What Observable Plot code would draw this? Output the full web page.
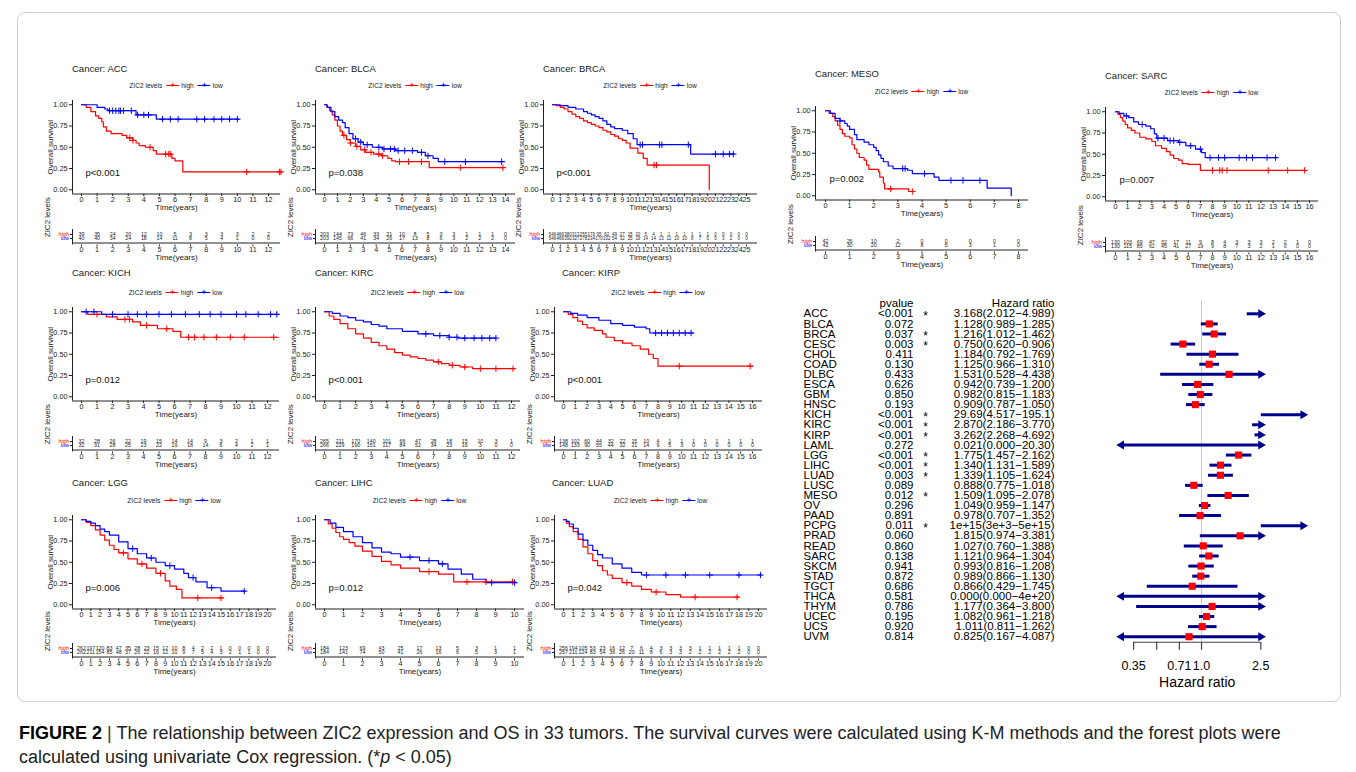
<!DOCTYPE html>
<html><head><meta charset="utf-8">
<script src="https://cdn.jsdelivr.net/npm/d3@7"></script>
<script src="https://cdn.jsdelivr.net/npm/@observablehq/plot@0.6"></script>
<style>
body{margin:0;background:#fff;font-family:"Liberation Sans",Arial,sans-serif;}
#root{position:relative;width:1356px;height:772px;overflow:hidden;background:#fff}
.abs{position:absolute}
.frame{position:absolute;left:17px;top:12px;width:1322px;height:688px;border:1px solid #cfcfcf;border-radius:8px}
.title{font-size:9.5px;color:#222;white-space:nowrap;transform:translateY(-50%)}
.legend{font-size:6.6px;color:#222;white-space:nowrap;display:flex;align-items:center;transform:translate(-50%,-50%)}
.key{position:relative;display:inline-block;width:13px;height:8px;margin:0 2px 0 4px}
.key i{position:absolute;left:0;right:0;top:3.6px;height:1.2px;background:var(--c)}
.key b{position:absolute;left:0;right:0;top:-1.5px;text-align:center;color:var(--c);font-size:9px;font-weight:normal;line-height:10px}
.caption{position:absolute;left:19px;top:721px;width:1330px;font-size:18px;line-height:24px;color:#222;white-space:nowrap}
.caption b{color:#000}
svg{overflow:visible}
</style>
</head><body><div id="root"><div class="frame"></div></div>
<script>
// ---------------- Kaplan-Meier data (time in years, survival) ----------------
const accHigh = [[0,1],[0.3,0.97],[0.6,0.92],[0.9,0.87],[1.1,0.84],[1.3,0.80],[1.4,0.74],[1.6,0.69],[1.9,0.66],[2.6,0.64],[2.9,0.61],[3.3,0.58],[3.5,0.55],[3.7,0.52],[4.1,0.50],[4.6,0.46],[4.8,0.42],[5.8,0.37],[6.0,0.34],[6.5,0.21],[12.8,0.21]];
const accLow = [[0,1],[1.0,0.97],[1.5,0.95],[1.7,0.93],[3.5,0.88],[4.8,0.83],[10.1,0.83]];
const accHighCens = [3.1,3.3,4.4,5.4,5.6,5.7,10.6,12.7,12.8];
const accLowCens = [1.8,2.0,2.2,2.4,2.5,2.7,3.2,3.6,4.0,4.3,5.2,5.7,6.2,7.4,7.9,8.5,9.0,9.5,10.0];
const accRiskHigh = [39,35,24,20,12,10,5,3,3,3,3,2,2];
const accRiskLow = [40,40,34,24,18,14,11,8,5,4,1,0,0];

const blcaHigh = [[0,1],[0.2,0.97],[0.4,0.93],[0.6,0.88],[0.8,0.82],[1.0,0.75],[1.2,0.69],[1.4,0.64],[1.7,0.59],[2.0,0.55],[2.4,0.51],[2.8,0.47],[3.2,0.44],[3.8,0.42],[4.4,0.40],[4.9,0.37],[5.2,0.34],[5.5,0.33],[8.1,0.26],[13.9,0.26]];
const blcaLow = [[0,1],[0.2,0.97],[0.5,0.92],[0.8,0.86],[1.1,0.82],[1.4,0.79],[1.6,0.73],[1.9,0.66],[2.2,0.60],[2.6,0.56],[3.0,0.53],[3.7,0.50],[4.5,0.48],[5.5,0.46],[7.2,0.44],[7.8,0.40],[8.4,0.37],[8.8,0.33],[13.9,0.33]];
const blcaHighCens = [1.5,2.0,2.5,3.1,3.6,4.2,4.5,5.8,6.5,7.5,10.5,13.8];
const blcaLowCens = [2.4,2.8,3.3,4.2,4.6,5.1,5.4,5.7,6.2,6.8,7.5,8.0,9.3,10.9,13.7];
const blcaRiskHigh = [203,144,73,46,33,21,10,8,5,3,3,1,1,1,0];
const blcaRiskLow = [203,145,66,41,34,26,17,13,8,6,3,2,2,2,0];

const brcaHigh = [[0,1],[0.5,0.99],[1,0.97],[1.5,0.95],[2,0.92],[2.5,0.89],[3,0.86],[3.5,0.84],[4,0.81],[4.5,0.79],[5,0.77],[5.5,0.75],[6,0.73],[6.5,0.70],[7,0.68],[7.5,0.65],[8,0.63],[8.5,0.60],[9,0.58],[9.5,0.55],[10,0.49],[11,0.43],[11.7,0.37],[12.2,0.29],[20.2,0]];
const brcaLow = [[0,1],[1,0.99],[2,0.97],[3,0.95],[4,0.92],[4.5,0.90],[5,0.88],[5.5,0.86],[6,0.84],[6.5,0.81],[7,0.77],[7.5,0.74],[8,0.72],[9,0.70],[9.7,0.66],[10.4,0.60],[10.9,0.53],[17.8,0.42],[23.4,0.42]];
const brcaHighCens = [13.1,13.4];
const brcaLowCens = [11.3,11.6,13.8,14.1,17.5,21.0,22.0,22.8,23.3];
const brcaRiskHigh = [546,466,380,313,255,179,95,62,49,27,15,10,5,4,1,1,1,1,1,1,1,0,0,0,0,0];
const brcaRiskLow = [546,466,392,327,278,234,170,102,54,32,25,19,14,14,13,11,10,10,8,7,5,5,3,2,0,0];

const mesoHigh = [[0,1],[0.15,0.97],[0.3,0.93],[0.4,0.88],[0.5,0.83],[0.6,0.78],[0.7,0.73],[0.8,0.70],[1.0,0.68],[1.1,0.60],[1.2,0.55],[1.3,0.50],[1.4,0.45],[1.6,0.42],[1.7,0.36],[1.8,0.31],[2.2,0.28],[2.25,0.22],[2.4,0.15],[2.45,0.08],[3.45,0.05],[3.6,0.05]];
const mesoLow = [[0,1],[0.2,0.97],[0.4,0.91],[0.6,0.88],[0.8,0.85],[0.9,0.82],[1.0,0.78],[1.2,0.72],[1.3,0.66],[1.6,0.63],[1.8,0.60],[2.0,0.57],[2.1,0.53],[2.2,0.48],[2.3,0.44],[2.4,0.40],[2.6,0.35],[2.8,0.32],[3.4,0.30],[3.6,0.26],[4.5,0.22],[4.7,0.18],[6.7,0.09],[7.7,0.0]];
const mesoHighCens = [2.7,3.6];
const mesoLowCens = [0.6,3.2,3.3,4.1,5.2,5.7,6.4];
const mesoRiskHigh = [42,26,10,2,0,0,0,0,0];
const mesoRiskLow = [42,30,20,12,8,5,3,1,0];

const sarcHigh = [[0,1],[0.2,0.97],[0.4,0.93],[0.6,0.89],[0.8,0.85],[1,0.81],[1.3,0.78],[1.6,0.75],[2,0.70],[2.5,0.68],[3,0.65],[3.3,0.60],[3.8,0.57],[4.2,0.53],[4.5,0.49],[4.8,0.45],[5.2,0.43],[5.5,0.39],[6,0.38],[7,0.31],[15.7,0.31]];
const sarcLow = [[0,1],[0.3,0.98],[0.7,0.95],[1.1,0.93],[1.5,0.88],[1.9,0.85],[2.5,0.83],[2.9,0.80],[3.2,0.74],[3.4,0.69],[4.3,0.66],[5.2,0.64],[5.8,0.60],[6.6,0.56],[7.1,0.52],[7.4,0.46],[13.3,0.46]];
const sarcHighCens = [8.0,8.6,8.8,9.2,12.6,14.2,15.6];
const sarcLowCens = [0.9,2.2,3.5,4.0,4.5,4.8,5.3,6.2,7.0,7.8,8.5,9.0,10.2,10.8,11.3,12.5,13.2];
const sarcRiskHigh = [130,103,69,47,32,17,11,9,8,4,3,3,3,2,2,1,0];
const sarcRiskLow = [130,115,85,62,45,41,27,19,9,8,7,3,2,1,0,0,0];

const kichHigh = [[0,1],[0.4,0.97],[1.6,0.94],[2.3,0.91],[3.3,0.88],[3.8,0.84],[4.9,0.80],[5.9,0.77],[6.4,0.70],[12.7,0.70]];
const kichLow = [[0,1],[1.3,0.97],[12.7,0.97]];
const kichHighCens = [1.0,2.8,3.1,4.2,5.5,6.9,7.3,7.9,8.7,9.6,10.5,12.4];
const kichLowCens = [0.3,0.8,2.0,3.0,3.6,4.2,5.0,5.8,6.7,7.6,8.3,9.0,10.0,10.6,11.4,12.2,12.6];
const kichRiskHigh = [32,28,26,22,19,15,14,14,9,3,2,1,1];
const kichRiskLow = [32,31,28,25,23,22,19,18,14,6,4,2,1];

const kircHigh = [[0,1],[0.3,0.95],[0.6,0.91],[1,0.86],[1.5,0.80],[2,0.74],[2.5,0.69],[3,0.64],[3.5,0.60],[4,0.56],[4.5,0.52],[5,0.49],[5.5,0.47],[6,0.45],[6.5,0.43],[7,0.41],[7.5,0.39],[8,0.37],[8.7,0.35],[9.5,0.33],[12.2,0.33]];
const kircLow = [[0,1],[0.5,0.98],[1,0.95],[1.5,0.93],[2,0.90],[2.5,0.88],[3,0.85],[3.5,0.83],[4,0.80],[5,0.77],[6,0.74],[7,0.72],[8,0.70],[8.6,0.69],[11,0.69]];
const kircHighCens = [7.3,8.2,9.0,10.0,11.0,12.1];
const kircLowCens = [6.5,7.4,8.0,8.5,9.0,9.6,10.1,10.6,11.0];
const kircRiskHigh = [265,211,170,140,101,66,47,28,18,15,10,3,1];
const kircRiskLow = [266,229,190,151,117,84,52,34,23,16,3,0,0];

const kirpHigh = [[0,1],[0.4,0.97],[0.8,0.93],[1.2,0.89],[1.6,0.85],[2,0.81],[2.6,0.78],[3.3,0.74],[3.6,0.70],[4.3,0.66],[5,0.63],[5.8,0.60],[6.5,0.56],[7.2,0.50],[7.6,0.45],[8.0,0.36],[16,0.36]];
const kirpLow = [[0,1],[0.6,0.98],[1.2,0.96],[2,0.93],[3,0.90],[4,0.86],[5,0.84],[6,0.82],[7,0.80],[7.3,0.75],[11,0.75]];
const kirpHighCens = [9.8,15.8];
const kirpLowCens = [7.8,8.3,8.8,9.3,9.8,10.3,10.8];
const kirpRiskHigh = [138,102,60,44,32,22,15,10,4,1,1,1,1,1,1,1,1];
const kirpRiskLow = [148,133,90,55,44,32,21,14,9,5,3,0,0,0,0,0,0];

const lggHigh = [[0,1],[0.5,0.97],[1,0.93],[1.5,0.88],[2,0.82],[2.5,0.76],[3,0.70],[3.5,0.65],[4,0.61],[5,0.54],[6,0.48],[7,0.43],[8,0.37],[9,0.28],[9.5,0.22],[10.2,0.18],[10.8,0.08],[15.2,0.08]];
const lggLow = [[0,1],[0.5,0.98],[1,0.96],[1.5,0.93],[2,0.89],[2.5,0.86],[3,0.82],[4,0.74],[5,0.66],[6,0.60],[7,0.55],[8,0.50],[9,0.46],[10,0.42],[11,0.37],[11.5,0.32],[12.3,0.27],[13.5,0.20],[15,0.16],[17.6,0.16]];
const lggHighCens = [4.5,6.5,8.5,12.5,15.0];
const lggLowCens = [5.5,7.5,9.5,12.0,14.0,17.5];
const lggRiskHigh = [262,197,120,83,47,35,28,23,15,12,10,8,4,2,2,1,0,0,0,0,0];
const lggRiskLow = [262,211,154,85,48,37,26,22,16,12,10,9,7,5,4,3,2,1,1,0,0];

const lihcHigh = [[0,1],[0.2,0.95],[0.4,0.90],[0.6,0.85],[0.8,0.80],[1,0.77],[1.3,0.73],[1.6,0.69],[2,0.63],[2.5,0.57],[3,0.51],[3.5,0.47],[4,0.43],[5,0.39],[6,0.36],[6.8,0.27],[10,0.27]];
const lihcLow = [[0,1],[0.3,0.96],[0.6,0.91],[1,0.86],[1.5,0.80],[2,0.73],[2.5,0.67],[3,0.62],[3.5,0.60],[4,0.56],[5,0.52],[6,0.48],[6.5,0.42],[7.2,0.36],[7.8,0.30],[8.5,0.26],[10.1,0.26]];
const lihcHighCens = [5.5,7.5,8.5,9.9];
const lihcLowCens = [4.5,5.5,6.2,8.8,10.0];
const lihcRiskHigh = [184,123,69,43,25,17,13,5,3,1,1];
const lihcRiskLow = [184,141,74,50,41,26,16,6,5,3,1];

const luadHigh = [[0,1],[0.3,0.96],[0.6,0.92],[1,0.86],[1.5,0.77],[2,0.68],[2.5,0.60],[3,0.52],[3.5,0.46],[4,0.40],[4.5,0.35],[5,0.31],[6,0.26],[7,0.22],[8,0.18],[9,0.15],[10.5,0.12],[12,0.09],[18,0.09]];
const luadLow = [[0,1],[0.3,0.98],[0.6,0.95],[1,0.90],[1.5,0.83],[2,0.76],[2.5,0.70],[3,0.64],[3.5,0.59],[4,0.55],[5,0.48],[6,0.43],[7,0.38],[8,0.35],[20.3,0.35]];
const luadHighCens = [6.5,9.5,13.5,17.8];
const luadLowCens = [8.5,10.5,12.5,15.0,18.0,20.2];
const luadRiskHigh = [256,194,105,53,23,16,12,7,6,4,3,3,3,3,1,1,1,1,1,0,0];
const luadRiskLow = [257,211,124,83,54,36,26,20,11,8,6,3,3,2,2,2,2,2,2,0,0];

// ---------------- Forest plot data ----------------
const cancers = ["ACC","BLCA","BRCA","CESC","CHOL","COAD","DLBC","ESCA","GBM","HNSC","KICH","KIRC","KIRP","LAML","LGG","LIHC","LUAD","LUSC","MESO","OV","PAAD","PCPG","PRAD","READ","SARC","SKCM","STAD","TGCT","THCA","THYM","UCEC","UCS","UVM"];
const pvalues = ["<0.001","0.072","0.037","0.003","0.411","0.130","0.433","0.626","0.850","0.193","<0.001","<0.001","<0.001","0.272","<0.001","<0.001","0.003","0.089","0.012","0.296","0.891","0.011","0.060","0.860","0.138","0.941","0.872","0.686","0.581","0.786","0.195","0.920","0.814"];
const hrLabels = ["3.168(2.012\u22124.989)","1.128(0.989\u22121.285)","1.216(1.012\u22121.462)","0.750(0.620\u22120.906)","1.184(0.792\u22121.769)","1.125(0.966\u22121.310)","1.531(0.528\u22124.438)","0.942(0.739\u22121.200)","0.982(0.815\u22121.183)","0.909(0.787\u22121.050)","29.69(4.517\u2212195.1)","2.870(2.186\u22123.770)","3.262(2.268\u22124.692)","0.021(0.000\u221220.30)","1.775(1.457\u22122.162)","1.340(1.131\u22121.589)","1.339(1.105\u22121.624)","0.888(0.775\u22121.018)","1.509(1.095\u22122.078)","1.049(0.959\u22121.147)","0.978(0.707\u22121.352)","1e+15(3e+3\u22125e+15)","1.815(0.974\u22123.381)","1.027(0.760\u22121.388)","1.121(0.964\u22121.304)","0.993(0.816\u22121.208)","0.989(0.866\u22121.130)","0.866(0.429\u22121.745)","0.000(0.000\u22124e+20)","1.177(0.364\u22123.800)","1.082(0.961\u22121.218)","1.011(0.811\u22121.262)","0.825(0.167\u22124.087)"];
const hr = [3.168,1.128,1.216,0.750,1.184,1.125,1.531,0.942,0.982,0.909,29.69,2.870,3.262,0.021,1.775,1.340,1.339,0.888,1.509,1.049,0.978,1e15,1.815,1.027,1.121,0.993,0.989,0.866,0.000,1.177,1.082,1.011,0.825];
const hrLow = [2.012,0.989,1.012,0.620,0.792,0.966,0.528,0.739,0.815,0.787,4.517,2.186,2.268,0.000,1.457,1.131,1.105,0.775,1.095,0.959,0.707,3e3,0.974,0.760,0.964,0.816,0.866,0.429,0.000,0.364,0.961,0.811,0.167];
const hrHigh = [4.989,1.285,1.462,0.906,1.769,1.310,4.438,1.200,1.183,1.050,195.1,3.770,4.692,20.30,2.162,1.589,1.624,1.018,2.078,1.147,1.352,5e15,3.381,1.388,1.304,1.208,1.130,1.745,4e20,3.800,1.218,1.262,4.087];
const hrTicks = [0.35,0.5,0.71,1.0,2.5];
const hrTickLabels = ["0.35","","0.71","1.0","2.5"];
const clipLo = 0.29, clipHi = 2.5, overflowHi = 4.8;

// ---------------- panels ----------------
const panels = [
  {name:"ACC", p:"p<0.001", high:accHigh, low:accLow, hc:accHighCens, lc:accLowCens, rh:accRiskHigh, rl:accRiskLow},
  {name:"BLCA", p:"p=0.038", high:blcaHigh, low:blcaLow, hc:blcaHighCens, lc:blcaLowCens, rh:blcaRiskHigh, rl:blcaRiskLow},
  {name:"BRCA", p:"p<0.001", high:brcaHigh, low:brcaLow, hc:brcaHighCens, lc:brcaLowCens, rh:brcaRiskHigh, rl:brcaRiskLow},
  {name:"MESO", p:"p=0.002", high:mesoHigh, low:mesoLow, hc:mesoHighCens, lc:mesoLowCens, rh:mesoRiskHigh, rl:mesoRiskLow},
  {name:"SARC", p:"p=0.007", high:sarcHigh, low:sarcLow, hc:sarcHighCens, lc:sarcLowCens, rh:sarcRiskHigh, rl:sarcRiskLow},
  {name:"KICH", p:"p=0.012", high:kichHigh, low:kichLow, hc:kichHighCens, lc:kichLowCens, rh:kichRiskHigh, rl:kichRiskLow},
  {name:"KIRC", p:"p<0.001", high:kircHigh, low:kircLow, hc:kircHighCens, lc:kircLowCens, rh:kircRiskHigh, rl:kircRiskLow},
  {name:"KIRP", p:"p<0.001", high:kirpHigh, low:kirpLow, hc:kirpHighCens, lc:kirpLowCens, rh:kirpRiskHigh, rl:kirpRiskLow},
  {name:"LGG", p:"p=0.006", high:lggHigh, low:lggLow, hc:lggHighCens, lc:lggLowCens, rh:lggRiskHigh, rl:lggRiskLow},
  {name:"LIHC", p:"p=0.012", high:lihcHigh, low:lihcLow, hc:lihcHighCens, lc:lihcLowCens, rh:lihcRiskHigh, rl:lihcRiskLow},
  {name:"LUAD", p:"p=0.042", high:luadHigh, low:luadLow, hc:luadHighCens, lc:luadLowCens, rh:luadRiskHigh, rl:luadRiskLow}
];

// layout (pixels): y-axis x, title x, x=0 pixel, last tick & its pixel, axis end, title/legend y, y of 1.00, y of "high" row
const layout = {
  ACC:{ax:72,tx:72,x0:81,tmax:12,tmaxPx:268,end:280,titleY:68,legendY:85,y1:104,riskY:232},
  BLCA:{ax:315,tx:315,x0:324,tmax:14,tmaxPx:505,end:515,titleY:68,legendY:85,y1:104,riskY:232},
  BRCA:{ax:543,tx:543,x0:552,tmax:25,tmaxPx:746,end:757,titleY:68,legendY:85,y1:104,riskY:232},
  MESO:{ax:815,tx:815,x0:825,tmax:8,tmaxPx:1018,end:1028,titleY:73,legendY:91,y1:110,riskY:239},
  SARC:{ax:1105,tx:1105,x0:1115,tmax:16,tmaxPx:1309,end:1318,titleY:75,legendY:92,y1:111,riskY:240},
  KICH:{ax:72,tx:72,x0:81,tmax:12,tmaxPx:267,end:279,titleY:272,legendY:292,y1:311,riskY:439},
  KIRC:{ax:315,tx:315,x0:324,tmax:12,tmaxPx:511,end:520,titleY:272,legendY:292,y1:311,riskY:439},
  KIRP:{ax:554,tx:562,x0:563,tmax:16,tmaxPx:752,end:762,titleY:272,legendY:292,y1:311,riskY:439},
  LGG:{ax:72,tx:72,x0:81,tmax:20,tmaxPx:267,end:276,titleY:482,legendY:500,y1:519,riskY:646},
  LIHC:{ax:315,tx:315,x0:324,tmax:10,tmaxPx:514,end:524,titleY:482,legendY:500,y1:519,riskY:646},
  LUAD:{ax:554,tx:552,x0:563,tmax:20,tmaxPx:758,end:767,titleY:482,legendY:500,y1:519,riskY:646}
};

const root = document.getElementById("root");
const FONT = "Liberation Sans, Arial, sans-serif";
const colorScale = {domain:["high","low"], range:["#FF0000","#0000FF"]};
const stepAt = (arr, t) => { let s = 1; for (const [tt, ss] of arr) if (tt <= t) s = ss; return s; };

function place(el, left, top) {
  el.classList.add("abs");
  el.style.left = left + "px"; el.style.top = top + "px";
  root.appendChild(el);
}

for (const P of panels) {
  const L = layout[P.name];
  const k = (L.tmaxPx - L.x0) / L.tmax;
  const xlo = -(L.x0 - L.ax) / k, xhi = (L.end - L.x0) / k;
  const mL = 40, mR = 6;
  const W = mL + (L.end - L.ax) + mR;
  const ticks = d3.range(0, L.tmax + 1);
  const xOpt = {domain:[xlo, xhi], ticks, tickFormat: d => d, tickSize: 2.5, tickPadding: 0, label: null};

  // title
  const t = document.createElement("div");
  t.className = "title"; t.textContent = "Cancer: " + P.name;
  place(t, L.tx, L.titleY);

  // legend
  const lg = document.createElement("div");
  lg.className = "legend";
  lg.innerHTML = 'ZIC2 levels<span class="key" style="--c:#FF0000"><i></i><b>+</b></span>high<span class="key" style="--c:#0000FF"><i></i><b>+</b></span>low';
  place(lg, (L.ax + L.end) / 2, L.legendY);

  // KM plot
  const mT = 4, mB = 30, fh = 85 * 1.1;
  const curves = [
    ...P.high.map(([t, s]) => ({t, s, g: "high"})),
    ...P.low.map(([t, s]) => ({t, s, g: "low"}))
  ];
  const cens = [
    ...P.hc.map(t => ({t, s: stepAt(P.high, t), g: "high"})),
    ...P.lc.map(t => ({t, s: stepAt(P.low, t), g: "low"}))
  ];
  const km = Plot.plot({
    width: W, height: mT + fh + mB,
    marginLeft: mL, marginRight: mR, marginTop: mT, marginBottom: mB,
    style: {fontFamily: FONT, fontSize: "7.3px", color: "#222", background: "transparent"},
    x: xOpt,
    y: {domain:[-0.05, 1.05], ticks:[0, 0.25, 0.5, 0.75, 1], tickFormat: d3.format(".2f"), tickSize: 3, tickPadding: 2, label: null},
    color: colorScale,
    marks: [
      Plot.ruleX([xlo], {stroke: "#222", strokeWidth: 1}),
      Plot.ruleY([-0.05], {stroke: "#222", strokeWidth: 1}),
      Plot.line(curves, {x: "t", y: "s", z: "g", stroke: "g", curve: "step-after", strokeWidth: 1.2}),
      Plot.dot(cens, {x: "t", y: "s", stroke: "g", symbol: "plus", r: 2.2, strokeWidth: 1}),
      Plot.text([P.p], {x: 0, y: 0.2, dx: 4, textAnchor: "start", fontSize: 9.5, fill: "#111"}),
      Plot.text(["Time(years)"], {frameAnchor: "bottom", dy: 15.8, fontSize: 8, fill: "#222"}),
      Plot.text(["Overall survival"], {x: xlo - 22 / k, y: 0.5, rotate: -90, fontSize: 8, fill: "#222"})
    ]
  });
  place(km, L.ax - mL, L.y1 - 85 * 0.05 - mT);

  // risk table
  const rows = [
    ...P.rh.map((n, i) => ({t: ticks[i], n, g: "high"})),
    ...P.rl.map((n, i) => ({t: ticks[i], n, g: "low"}))
  ];
  const maxDigits = d3.max(rows, d => String(d.n).length);
  const numSize = Math.min(5.3, k / (maxDigits * 0.58));
  const rH = 40, axisY = 17.5;
  const risk = Plot.plot({
    width: W, height: rH,
    marginLeft: mL, marginRight: mR, marginTop: 2, marginBottom: rH - axisY,
    style: {fontFamily: FONT, fontSize: "7.1px", color: "#222", background: "transparent"},
    x: {...xOpt, tickSize: 2, tickPadding: 0},
    y: {type: "point", domain: ["high", "low"], range: [5, 13], tickSize: 2, tickFormat: () => "", label: null},
    color: colorScale,
    marks: [
      Plot.ruleX([xlo], {stroke: "#222", strokeWidth: 1}),
      Plot.ruleY(["low"], {x1: xlo, x2: xhi, dy: axisY - 13, stroke: "#222", strokeWidth: 1}),
      Plot.text(rows, {x: "t", y: "g", text: "n", fontSize: numSize, fill: "#222"}),
      Plot.text(["high", "low"], {y: d => d, frameAnchor: "left", dx: -3.5, textAnchor: "end", fill: d => d, fontSize: 5.5}),
      Plot.text(["Time(years)"], {frameAnchor: "bottom", dy: 15.2, fontSize: 8, fill: "#222"}),
      Plot.text(["ZIC2 levels"], {x: xlo - 25 / k, frameAnchor: "left", rotate: -90, fontSize: 8, fill: "#222"})
    ]
  });
  place(risk, L.ax - mL, L.riskY - 5.5);
}

// ---------------- forest plot ----------------
const fRows = cancers.map((c, i) => {
  const lo = hrLow[i], hi = hrHigh[i], h = hr[i];
  let x1, x2, arrowL = false, arrowR = false;
  if (lo > clipHi) { x1 = clipHi; x2 = overflowHi; arrowR = true; }
  else {
    x1 = Math.max(lo, clipLo); x2 = Math.min(hi, clipHi);
    arrowL = lo < clipLo; arrowR = hi > clipHi;
  }
  const star = pvalues[i].startsWith("<") || parseFloat(pvalues[i]) < 0.05;
  return {i, c, p: pvalues[i], label: hrLabels[i], h, x1, x2, arrowL, arrowR, box: h >= clipLo && h <= clipHi, star};
});
const fW = 530, fH = 400;
const forest = Plot.plot({
  width: fW, height: fH, marginLeft: 0, marginRight: 0, marginTop: 5, marginBottom: 53,
  style: {fontFamily: FONT, fontSize: "11.5px", color: "#000", background: "transparent"},
  x: {type: "log", domain: [0.35, 2.5], range: [343.1, 470.3], axis: null},
  y: {domain: [0, 32], range: [18.3, 341.2], axis: null},
  marks: [
    Plot.ruleX([1], {y1: -1.3, y2: 32.55, stroke: "#c8c8c8", strokeWidth: 1}),
    Plot.text(["pvalue"], {y: -1, frameAnchor: "left", dx: 123, textAnchor: "end", fontSize: 11.5}),
    Plot.text(["Hazard ratio"], {y: -1, frameAnchor: "left", dx: 264, textAnchor: "end", fontSize: 11.5}),
    Plot.text(fRows, {y: "i", text: "c", frameAnchor: "left", dx: 13, textAnchor: "start", fontSize: 11.5}),
    Plot.text(fRows, {y: "i", text: "p", frameAnchor: "left", dx: 123, textAnchor: "end", fontSize: 11.5}),
    Plot.text(fRows.filter(d => d.star), {y: "i", text: () => "*", frameAnchor: "left", dx: 135, dy: 2, textAnchor: "middle", fontSize: 12}),
    Plot.text(fRows, {y: "i", text: "label", frameAnchor: "left", dx: 264, textAnchor: "end", fontSize: 11.5}),
    Plot.link(fRows, {x1: "x1", x2: "x2", y1: "i", y2: "i", stroke: "#00008B", strokeWidth: 3}),
    Plot.dot(fRows.filter(d => d.arrowR), {x: "x2", y: "i", symbol: "triangle", rotate: 90, r: 3.3, fill: "#00008B", stroke: "none"}),
    Plot.dot(fRows.filter(d => d.arrowL), {x: "x1", y: "i", symbol: "triangle", rotate: -90, r: 3.3, fill: "#00008B", stroke: "none"}),
    Plot.dot(fRows.filter(d => d.box), {x: "h", y: "i", symbol: "square", r: 4, fill: "#FF0000", stroke: "none"}),
    Plot.ruleY([32.55], {x1: hrTicks[0], x2: hrTicks[hrTicks.length - 1], stroke: "#444", strokeWidth: 1.2}),
    Plot.ruleX(hrTicks, {y1: 32.55, y2: 33.35, stroke: "#444", strokeWidth: 1.2}),
    Plot.text(hrTicks, {x: d => d, y: 34.86, text: (d, i) => hrTickLabels[i], fontSize: 12.5}),
    Plot.text(["Hazard ratio"], {x: Math.sqrt(hrTicks[0] * hrTicks[hrTicks.length - 1]), y: 36.55, fontSize: 14})
  ]
});
place(forest, 790, 295);

// ---------------- caption ----------------
const cap = document.createElement("div");
cap.className = "caption";
cap.innerHTML = '<b>FIGURE 2</b> <span style="color:#333">|</span> The relationship between ZIC2 expression and OS in 33 tumors. The survival curves were calculated using K-M methods and the forest plots were<br>calculated using univariate Cox regression. (*<i>p</i> &lt; 0.05)';
root.appendChild(cap);
</script>
</body></html>
